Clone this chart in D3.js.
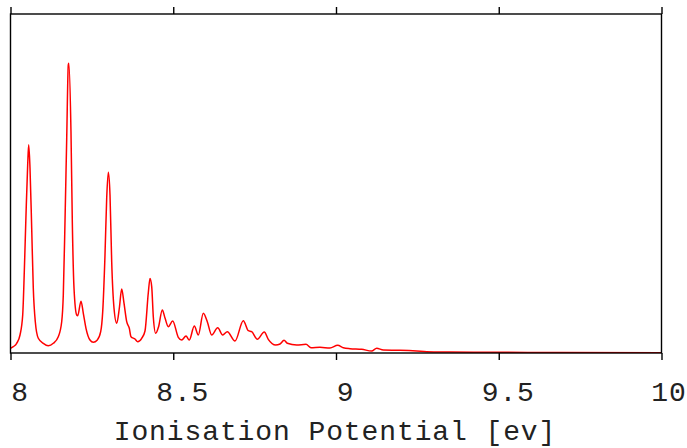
<!DOCTYPE html>
<html><head><meta charset="utf-8">
<script src="https://cdn.jsdelivr.net/npm/d3@7"></script>
<style>html,body{margin:0;padding:0;background:#fff;overflow:hidden;}</style>
</head><body><svg id="c" width="687" height="448"></svg>
<script>
// Ionisation spectrum (arbitrary intensity units)
const energy = [
  8.000, 8.0086, 8.0190, 8.0292, 8.0375, 8.0424, 8.0476, 8.0528, 8.0559, 8.0599,
  8.0651, 8.0700, 8.0762, 8.0854, 8.1008, 8.1161, 8.1315, 8.1468, 8.1573, 8.1622,
  8.1674, 8.1727, 8.1776, 8.1791, 8.1858, 8.1899, 8.1951, 8.2034, 8.2065, 8.2166,
  8.2237, 8.2319, 8.2442, 8.2544, 8.2667, 8.2771, 8.2833, 8.2903, 8.2955, 8.3005,
  8.3057, 8.3109, 8.3180, 8.3263, 8.3343, 8.3416, 8.3487, 8.3570, 8.3650, 8.3702,
  8.3825, 8.3908, 8.4031, 8.4132, 8.4233, 8.4286, 8.4338, 8.4387, 8.4461, 8.4547,
  8.4664, 8.4747, 8.4848, 8.4983, 8.5155, 8.5260, 8.5392, 8.5493, 8.5647, 8.5770,
  8.5923, 8.6046, 8.6181, 8.6366, 8.6519, 8.6661, 8.6897, 8.7152, 8.7306, 8.7410,
  8.7582, 8.7797, 8.7920, 8.8147, 8.8280, 8.8403, 8.8504, 8.8793, 8.9078, 8.9232,
  8.9508, 8.9816, 9.0052, 9.0224, 9.0430, 9.0790, 9.1097, 9.1250, 9.1453, 9.1966,
  9.2479, 9.2786, 9.3502, 9.4731, 9.6880, 10.000
];
const intensity = [
  1.39, 1.86, 2.86, 5.31, 11.2, 24.0, 40.7, 55.5, 61.4, 54.6,
  36.9, 19.2, 9.23, 4.34, 2.86, 2.15, 2.86, 4.81, 9.23, 17.1,
  38.7, 63.3, 85.0, 85.5, 65.3, 38.7, 19.1, 11.2, 11.0, 15.3,
  11.7, 7.29, 3.83, 3.16, 3.83, 6.28, 12.2, 28.9, 45.6, 53.3,
  46.6, 26.9, 13.2, 8.76, 13.2, 18.9, 14.7, 9.23, 7.29, 4.81,
  4.13, 3.33, 4.34, 6.49, 17.7, 22.0, 19.6, 10.7, 5.81, 7.67,
  12.7, 10.3, 7.76, 9.44, 4.63, 3.83, 5.01, 3.83, 7.96, 5.31,
  11.7, 9.23, 5.31, 7.46, 5.31, 6.28, 3.54, 9.53, 6.58, 6.28,
  4.04, 6.19, 4.04, 2.36, 2.65, 3.75, 2.86, 2.36, 2.57, 1.56,
  1.68, 1.47, 2.27, 1.56, 1.27, 1.09, 0.59, 1.39, 0.88, 0.80,
  0.59, 0.38, 0.29, 0.21, 0.15, 0.09
];
const xTicks = [8, 8.5, 9, 9.5, 10];
const xTickLabels = ["8", "8.5", "9", "9.5", "10"];
const xTitle = "Ionisation Potential [ev]";

const svg = d3.select("#c");
const L = 10.5, R = 661.5, T = 14, B = 353;
const x = d3.scaleLinear().domain([8, 10]).range([L, R]);
const y = d3.scaleLinear().domain([0, 100]).range([B, T]);

svg.append("defs").append("clipPath").attr("id", "clip")
  .append("rect").attr("x", L).attr("y", T).attr("width", R - L).attr("height", B - T);

const data = energy.map((e, i) => ({e, v: intensity[i]}));
const line = d3.line().x(d => x(d.e)).y(d => y(d.v)).curve(d3.curveMonotoneX);

svg.append("path").datum(data)
  .attr("clip-path", "url(#clip)")
  .attr("fill", "none").attr("stroke", "#ff0000").attr("stroke-width", 1.5)
  .attr("stroke-linejoin", "round")
  .attr("d", line);

// frame
svg.append("rect").attr("x", L).attr("y", T).attr("width", R - L).attr("height", B - T)
  .attr("fill", "none").attr("stroke", "#000").attr("stroke-width", 1.4);

// axes (ticks outward top & bottom)
const fmt = (d, i) => xTickLabels[i];
const gTop = svg.append("g").attr("transform", `translate(0,${T})`)
  .call(d3.axisTop(x).tickValues(xTicks).tickSize(7).tickSizeOuter(0).tickFormat(""));
gTop.select(".domain").remove();
gTop.selectAll("line").attr("stroke", "#000").attr("stroke-width", 1.4);

const gBot = svg.append("g").attr("transform", `translate(0,${B})`)
  .call(d3.axisBottom(x).tickValues(xTicks).tickSize(7).tickSizeOuter(0).tickFormat(fmt));
gBot.select(".domain").remove();
gBot.selectAll("line").attr("stroke", "#000").attr("stroke-width", 1.4);
gBot.selectAll("text")
  .attr("font-family", "'Liberation Mono', 'Courier New', monospace")
  .attr("font-size", 28).attr("letter-spacing", 0.9).attr("fill", "#222")
  .attr("dy", null).attr("y", 401 - B)
  .attr("dx", (d, i) => i === xTicks.length - 1 ? 7 : 9)
  .attr("text-anchor", "middle");

svg.append("text").attr("x", 335).attr("y", 440)
  .attr("font-family", "'Liberation Mono', 'Courier New', monospace")
  .attr("font-size", 28).attr("letter-spacing", 0.9)
  .attr("fill", "#222").attr("text-anchor", "middle")
  .text(xTitle);
</script></body></html>
